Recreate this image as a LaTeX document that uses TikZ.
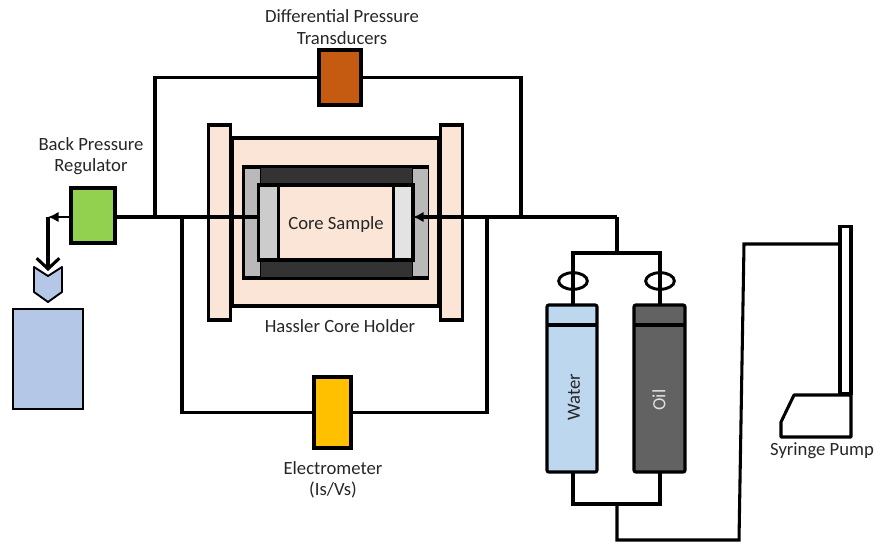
\documentclass[tikz,border=0pt]{standalone}
\usepackage{fontspec}
\setmainfont{Carlito}
\usepackage{xcolor}
\usetikzlibrary{arrows.meta}
\usetikzlibrary{shapes.geometric}

\definecolor{holder}{HTML}{FBE5D6}
\definecolor{darkrubber}{HTML}{333333}
\definecolor{transducer}{HTML}{C55A11}
\definecolor{metercol}{HTML}{FFC000}
\definecolor{regulator}{HTML}{92D050}
\definecolor{vessel}{HTML}{B4C7E7}
\definecolor{watercol}{HTML}{BDD7EE}
\definecolor{oilcol}{HTML}{626262}

\tikzset{
    part/.style 2 args={rectangle, draw=black, line width=2.4pt, inner sep=0pt, outer sep=0pt,
        minimum width=#1*0.75pt, minimum height=#2*0.75pt},
    pipe/.style={line width=2.3pt, line join=miter},
    caption/.style={align=center, font=\fontsize{14pt}{16pt}\selectfont, inner sep=0pt, text=black!85},
    valve/.style={ellipse, draw=black, line width=2.2pt, minimum width=21.5pt, minimum height=12.5pt, inner sep=0pt, outer sep=0pt},
}

\begin{document}
\begin{tikzpicture}[x=0.75pt, y=-0.75pt]
    \useasboundingbox (0,0) rectangle (874,542);

    % Core holder
    \node[part={207}{168}, fill=holder] (body) at (335.5,222) {};
    \node[part={22}{195}, fill=holder] (flangeL) at (219.5,222.5) {};
    \node[part={22}{195}, fill=holder] (flangeR) at (451.5,222.5) {};
    \node[part={183}{111}, fill=black] (frame) at (335.5,222.5) {};
    \node[part={15}{107}, fill=gray!55, draw=none] (endL) at (252,222.5) {};
    \node[part={15}{107}, fill=gray!55, draw=none] (endR) at (420.5,222.5) {};
    \node[part={151}{16}, fill=darkrubber, draw=none] (sleeveT) at (336.5,176) {};
    \node[part={151}{16}, fill=darkrubber, draw=none] (sleeveB) at (336.5,269) {};
    \node[part={20}{75}, fill=gray!40] (spacerL) at (268.5,222.5) {};
    \node[part={20}{75}, fill=gray!22] (spacerR) at (403,222.5) {};
    \node[part={115}{75}, fill=holder] (core) at (336,222.5) {};
    \node[caption] (corelabel) at (336,225) {Core Sample};
    \node[caption] (holderlabel) at (340,326) {Hassler Core Holder};

    % Instruments
    \node[part={42}{55}, fill=transducer] (dpt) at (340,77.5) {};
    \node[part={37}{71}, fill=metercol] (meter) at (332.5,412.5) {};
    \node[part={44}{55}, fill=regulator] (bpr) at (93,215.5) {};
    \node[caption] (dptlabel) at (342,27) {Differential Pressure\\Transducers};
    \node[caption] (meterlabel) at (333,480) {Electrometer\\(Is/Vs)};
    \node[caption] (bprlabel) at (91,156) {Back Pressure\\Regulator};

    % Outlet and collector
    \node[rectangle, draw=black, line width=1.2pt, fill=vessel, minimum width=52.5pt, minimum height=75pt,
        inner sep=0pt, outer sep=0pt] (collector) at (48,359) {};
    \draw[line width=1.4pt, fill=vessel, line join=round] (34,267) -- (48,276) -- (62,267) -- (62,292)
        -- (48,302) -- (34,292) -- cycle;

    % Cylinders
    \node[part={50}{167}, fill=watercol, rounded corners=1.5pt] (water) at (572,388.5) {};
    \node[part={51}{167}, fill=oilcol, rounded corners=1.5pt] (oil) at (659.5,388.5) {};
    \draw[pipe] (546,325) -- (598,325);
    \draw[pipe] (633,325) -- (686,325);
    \node[caption, rotate=90] (waterlabel) at (574,397) {Water};
    \node[caption, rotate=90, text=gray!25] (oillabel) at (659,400) {Oil};

    % Valves
    \node[valve] (valveW) at (573,281) {};
    \node[valve] (valveO) at (660,281) {};

    % Syringe pump
    \node[part={11}{167}, fill=white] (barrel) at (845.5,310) {};
    \draw[line width=2.3pt, fill=white, line join=round] (794,395) -- (851,395) -- (851,437) -- (781,437)
        -- (781,422) -- cycle;
    \node[caption] (pumplabel) at (822,451) {Syringe Pump};

    % Junctions
    \coordinate (teeL) at (155,217);
    \coordinate (teeM) at (182,217);
    \coordinate (teeR) at (487,217);
    \coordinate (teeS) at (521,217);
    \coordinate (inlet) at (617,217);
    \coordinate (topsplit) at (617,253);
    \coordinate (botsplit) at (617,504);
    \coordinate (bend) at (48,217);
    \coordinate (funnel) at (48,271);
    \coordinate (pumpin) at (744,244);

    % Connections
    \draw[pipe] (bpr.east |- teeL) -- (257,217);
    \draw[pipe, -{Latex[length=8pt,width=8pt]}] (inlet) -- (413,217);
    \draw[pipe] (teeL) |- (dpt.west);
    \draw[pipe] (dpt.east) -| (teeS);
    \draw[pipe] (teeM) |- (meter.west);
    \draw[pipe] (meter.east) -| (teeR);
    \draw[pipe] (inlet) -- (topsplit);
    \draw[pipe] (valveW |- water.north) -- (valveW |- topsplit) -- (valveO |- topsplit) -- (valveO |- oil.north);
    \draw[pipe] (valveW |- water.south) -- (valveW |- botsplit) -- (valveO |- botsplit) -- (valveO |- oil.south);
    \draw[pipe] (botsplit) -- (617,540) -- (739,540) -- (pumpin) -- (barrel.west |- pumpin);
    \draw[line width=2pt, -{Latex[length=8pt,width=8pt]}] (bpr.west |- bend) -- (bend);
    \draw[pipe, -{Straight Barb[length=8pt,width=17pt,line width=2.3pt]}] (bend) -- (funnel);
\end{tikzpicture}
\end{document}
